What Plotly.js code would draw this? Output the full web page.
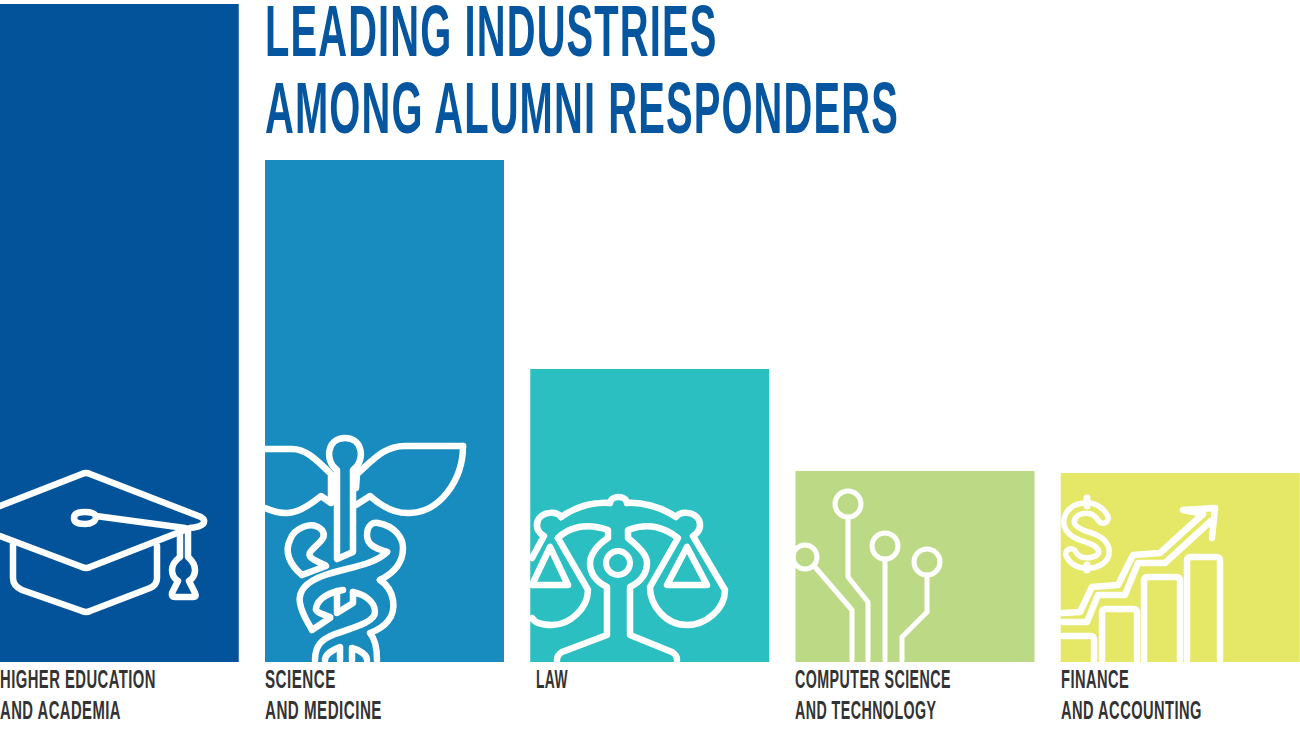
<!DOCTYPE html>
<html><head><meta charset="utf-8">
<script src="https://cdn.plot.ly/plotly-3.0.1.min.js"></script>
<style>html,body{margin:0;padding:0;background:#fff}#chart{width:1300px;height:731px}
.shapelayer path{stroke-linejoin:round;stroke-linecap:round}</style>
</head><body><div id="chart"></div>
<script>
const categories = ["Higher Education and Academia","Science and Medicine","Law","Computer Science and Technology","Finance and Accounting"];
const values = [658,502,293,191,189];
const barColors = ["#03539B","#188CBE","#2CBFC2","#BCDA86","#E5E766"];
const labelLines = ["HIGHER EDUCATION<br>AND ACADEMIA","SCIENCE<br>AND MEDICINE","LAW","COMPUTER SCIENCE<br>AND TECHNOLOGY","FINANCE<br>AND ACCOUNTING"];
const labelX = [-1,264,535,794,1060];
const labelWidths = [156,117,32,156,141];
const titleText = "LEADING INDUSTRIES<br>AMONG ALUMNI RESPONDERS";
const FONT='"Liberation Sans",Arial,sans-serif';
const W=1300,H=731;
const pathConv = p => p.replace(/(-?[\d.]+),(-?[\d.]+)/g,(m,a,b)=>(a/W).toFixed(5)+','+(1-b/H).toFixed(5));
const line = (p,w=6.5,c='#fff') => ({type:'path',xref:'paper',yref:'paper',path:pathConv(p),line:{color:c,width:w},layer:'above'});
const circ = (x,y,r,w=6) => ({type:'circle',xref:'paper',yref:'paper',x0:(x-r)/W,x1:(x+r)/W,y0:1-(y+r)/H,y1:1-(y-r)/H,line:{color:'#fff',width:w}});
const iconHat = [
 "M0,506 L82,474 Q86,472 90,474 L201,517 Q206,520 203,524 Q200,527 190,528 L90,567 Q86,569 82,567 L0,536",
 "M13,544 L13,578 Q13,586 22,590 L82,611 Q86,613 90,611 L150,588 Q157,585 157,578 L157,546",
 "M96,516 L185,528 M96,518 Q94,524 85,524 Q74,524 74,518 Q74,512 85,512 Q94,512 96,516",
 "M180,530 L180,557 Q172,563 172,570 Q172,577 178,581 L172,593 Q171,597 175,597 L193,597 Q197,597 195,593 L189,581 Q195,577 195,570 Q195,563 188,557 L188,530"
].map(p=>line(p));
const iconMed = [
 "M337,559 L337,470 C325,462 326,438 345,438 C364,438 365,462 353,470 L353,552 Z",
 "M265,449 L292,449 C305,449 315,458 331,474 L331,503 L321,496 C310,505 296,514 285,513 C278,513 272,511 265,508",
 "M463,446 L405,446 C385,446 375,458 357,474 L356,488",
 "M356,505 L370,496 C380,505 395,514 410,513 C440,512 463,480 463,446",
 "M302,575 C290,565 284,552 290,540 C294,528 312,520 322,530 C328,538 318,543 312,550 C307,555 308,558 325,565 M302,575 L326,566",
 "M387,552 C375,565 345,568 325,575 C305,582 298,592 300,603 C302,615 308,622 312,630 L330,618",
 "M387,552 C375,548 367,545 367,535 C367,526 372,522 378,523 C395,526 403,538 403,548 C403,565 392,574 380,580",
 "M380,580 C395,590 397,610 388,621 C384,626 378,630 370,633 C376,640 377,650 377,660",
 "M353,592 C362,594 375,600 375,612 C375,622 355,627 335,634 C322,639 315,645 315,660",
 "M337,591 L337,613 L353,603 L353,592",
 "M343,590 C330,592 318,598 316,608 C315,612 322,614 330,617",
 "M325,660 C325,655 332,650 340,647 L340,660",
 "M352,660 L352,648 C360,650 367,655 367,660"
].map(p=>line(p));
const iconLaw = [
 "M561,517 C577,506 595,502 610,503 C611,495 626,495 627,503 C640,502 660,506 676,517 C680,511 694,511 699,520 C702,528 698,533 693,536 L725,590 C725,610 705,625 687,625 C665,625 650,605 650,587 L678,538 C665,528 650,522 628,530 L628,538 C640,548 647,555 647,563 C647,575 640,582 630,587 L630,635 L672,652 Q677,655 677,660",
 "M561,517 C557,511 543,511 538,520 C535,528 539,533 544,536 L532,558",
 "M558,538 C568,528 585,522 608,530 L608,538 C597,545 590,555 590,563 C590,575 597,582 607,587 L607,635 L562,652 Q557,655 557,660",
 "M558,538 L588,590 C588,608 570,625 552,625 C542,625 535,623 532,618",
 "M532,585 L568,585 L550,547 L532,585",
 "M667,585 L707,585 L687,547 Z"
].map(p=>line(p)).concat([circ(618,563,12)]);
const iconTech = [
 "M848,518 L848,577 L868,602 L868,660",
 "M885,560 L885,660",
 "M927,575 L927,612 L902,637 L902,660",
 "M815,567 L852,610 L852,660"
].map(p=>line(p,5)).concat([circ(848,504,13,5),circ(885,546,13,5),circ(927,562,13,5),circ(805,557,12,5)]);
const dollarS = "M1103,518 C1098,510 1092,508 1087,508 C1075,508 1069,515 1069,522 C1069,530 1078,534 1087,537 C1097,540 1104,545 1104,552 C1104,558 1097,563 1087,563 C1080,563 1074,560 1071,554";
const iconFin = [
 line("M1063,636 L1090,636 Q1094,636 1094,640 L1094,660"),
 line("M1102,660 L1102,613 Q1102,609 1106,609 L1133,609 Q1137,609 1137,613 L1137,660"),
 line("M1144,660 L1144,581 Q1144,577 1148,577 L1176,577 Q1180,577 1180,581 L1180,660"),
 line("M1187,660 L1187,561 Q1187,557 1191,557 L1216,557 Q1220,557 1220,561 L1220,660"),
 line("M1063,613 L1080,612 L1092,587 L1118,585 L1133,555 L1160,553 L1203,514"),
 line("M1063,622 L1087,622 L1098,595 L1125,595 L1138,563 L1165,563 L1211,521"),
 line("M1183,510 L1215,508 L1212,538 M1183,510 L1203,514"),
 line(dollarS,16), line(dollarS,5,'#E5E766'),
 line("M1087,498 L1087,506",7), line("M1087,565 L1087,570",7)
];
const shapes = [...iconHat,...iconMed,...iconLaw,...iconTech,...iconFin];
const annotations = labelLines.map((t,i)=>({xref:'paper',yref:'paper',x:labelX[i]/W,y:1-662.5/H,xanchor:'left',yanchor:'top',align:'left',showarrow:false,text:t,borderpad:0,
  font:{family:FONT,size:26,weight:700,color:'#333333'}}));
const pitch=265.25, first=119.25;
const data=[{type:'bar',x:categories,y:values,marker:{color:barColors,line:{width:0}},hoverinfo:'x+y'}];
const layout={width:W,height:H,margin:{l:0,r:0,t:0,b:0,pad:0},paper_bgcolor:'#fff',plot_bgcolor:'#fff',showlegend:false,bargap:0.099,
  title:{text:titleText,x:265/W,xanchor:'left',y:1-56/H,yanchor:'top',pad:{t:0,l:0,r:0,b:0},font:{family:FONT,size:72,weight:700,color:'#05569F'}},
  xaxis:{type:'category',categoryorder:'array',categoryarray:categories,range:[(0-first)/pitch,(W-first)/pitch],visible:false,fixedrange:true},
  yaxis:{range:[-69,662],visible:false,fixedrange:true},
  shapes,annotations};
function squeeze(el,target,spacing){
  el.style.letterSpacing=spacing;
  const b=el.getBBox();
  el.style.transformBox='fill-box';el.style.transformOrigin='left center';el.style.transform='scaleX('+(target/b.width)+')';
}
Plotly.newPlot('chart',data,layout,{displayModeBar:false,responsive:false}).then(gd=>{
  const t=gd.querySelector('.gtitle');
  t.querySelectorAll('tspan.line').forEach((s,i)=>{ if(i>0) s.setAttribute('dy','1.07em'); });
  squeeze(t,634,'2px');
  gd.querySelectorAll('.annotation-text').forEach((el,i)=>{
    el.querySelectorAll('tspan.line').forEach((s,k)=>{ if(k>0) s.setAttribute('dy','1.19em'); });
    squeeze(el,labelWidths[i],'0.8px');
  });
});
</script></body></html>
